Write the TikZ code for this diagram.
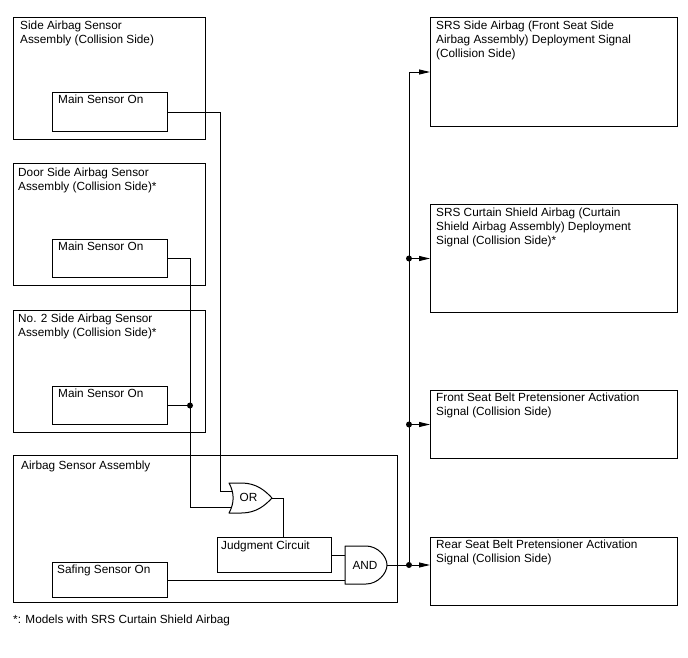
\documentclass[tikz,border=0pt]{standalone}
\usepackage{fontspec}
\setmainfont{Liberation Sans}
\usetikzlibrary{positioning,calc,arrows.meta}

\begin{document}
\begin{tikzpicture}[x=1pt,y=-1pt]
        \tikzset{
            unit/.style={draw, line width=1pt, anchor=north west, inner sep=0pt},
            lbl/.style={anchor=north west, inner sep=0pt, align=left, font=\fontsize{11.8}{14}\selectfont},
            gate/.style={inner sep=0pt, font=\fontsize{11.8}{14}\selectfont},
            outline/.style={line width=1pt, line join=round},
            wire/.style={line width=0.9pt},
            sig/.style={wire, -{Triangle[length=11pt,width=5pt]}},
            dot/.style={circle, fill, inner sep=0pt, minimum size=6pt}
        }
        \useasboundingbox (0,0) rectangle (688,658);
        % sensor assemblies
        \node[unit, minimum width=192, minimum height=122] (sa1) at (13,17) {};
        \node[unit, minimum width=115, minimum height=39] (m1) at (52,92) {};
        \node[unit, minimum width=192, minimum height=122] (sa2) at (13,163) {};
        \node[unit, minimum width=115, minimum height=38] (m2) at (52,239) {};
        \node[unit, minimum width=192, minimum height=122] (sa3) at (13,310) {};
        \node[unit, minimum width=115, minimum height=38] (m3) at (52,386) {};
        \node[lbl] (sa1t) at ([shift={(7,4)}]sa1.north west) {Side Airbag Sensor\\Assembly (Collision Side)};
        \node[lbl] (sa2t) at ([shift={(5,5)}]sa2.north west) {Door Side Airbag Sensor\\Assembly (Collision Side)*};
        \node[lbl] (sa3t) at ([shift={(5,4)}]sa3.north west) {No. 2 Side Airbag Sensor\\Assembly (Collision Side)*};
        \node[lbl] (m1t) at ([shift={(6,3)}]m1.north west) {Main Sensor On};
        \node[lbl] (m2t) at ([shift={(6,3)}]m2.north west) {Main Sensor On};
        \node[lbl] (m3t) at ([shift={(6,3)}]m3.north west) {Main Sensor On};
        % airbag sensor assembly
        \node[unit, minimum width=384, minimum height=147] (asa) at (13,455) {};
        \node[lbl] (asat) at ([shift={(8,6)}]asa.north west) {Airbag Sensor Assembly};
        \node[unit, minimum width=114, minimum height=35] (jc) at (217,537) {};
        \node[lbl] (jct) at ([shift={(4,3.5)}]jc.north west) {Judgment Circuit};
        \node[unit, minimum width=115, minimum height=35] (ss) at (52,562) {};
        \node[lbl] (sst) at ([shift={(5,3)}]ss.north west) {Safing Sensor On};
        % gates
        \node[gate] (org) at (248.5,497) {OR};
        \begin{scope}[shift={(250.5,498)}]
            \draw[outline] (-21.5,-15) -- (-9,-15) .. controls (6,-15) and (15,-7) .. (21.5,0)
                .. controls (15,7) and (6,15) .. (-9,15) -- (-21.5,15)
                .. controls (-16,5) and (-16,-5) .. (-21.5,-15) -- cycle;
            \coordinate (or1) at (-18.2,-6.5);
            \coordinate (or2) at (-18.9,9);
            \coordinate (orout) at (21.5,0);
        \end{scope}
        \node[gate] (andg) at (365,565) {AND};
        \begin{scope}[shift={(366,565)}]
            \draw[outline] (-21,-19) -- (0,-19) .. controls (11.6,-19) and (21,-8.5) .. (21,0)
                .. controls (21,8.5) and (11.6,19) .. (0,19) -- (-21,19) -- cycle;
            \coordinate (and1) at (-21,-10);
            \coordinate (and2) at (-21,14);
            \coordinate (andout) at (21,0);
        \end{scope}
        % output signals
        \node[unit, minimum width=247, minimum height=109] (r1) at (430,17) {};
        \node[unit, minimum width=247, minimum height=108] (r2) at (430,204) {};
        \node[unit, minimum width=247, minimum height=68] (r3) at (430,390) {};
        \node[unit, minimum width=247, minimum height=68] (r4) at (430,537) {};
        \node[lbl] (r1t) at ([shift={(6,4)}]r1.north west) {SRS Side Airbag (Front Seat Side\\Airbag Assembly) Deployment Signal\\(Collision Side)};
        \node[lbl] (r2t) at ([shift={(6,4)}]r2.north west) {SRS Curtain Shield Airbag (Curtain\\Shield Airbag Assembly) Deployment\\Signal (Collision Side)*};
        \node[lbl] (r3t) at ([shift={(6,3)}]r3.north west) {Front Seat Belt Pretensioner Activation\\Signal (Collision Side)};
        \node[lbl] (r4t) at ([shift={(6,3)}]r4.north west) {Rear Seat Belt Pretensioner Activation\\Signal (Collision Side)};
        \node[lbl] (note) at (13,615) {*: Models with SRS Curtain Shield Airbag};
        % wiring
        \draw[wire] (m1.east) -- ++(52,0) |- (or1);
        \draw[wire] (m2.east) -- ++(22,0) coordinate (k2) |- (or2);
        \draw[wire] (m3.east) -- (m3.east -| k2) node[dot] (d0) {};
        \draw[wire] (orout) -- ++(11,0) coordinate (k3) -- (k3 |- jc.north);
        \draw[wire] (jc.east) -- (jc.east -| and1);
        \draw[wire] (ss.east) -- (ss.east -| and2);
        \draw[wire] (andout) -- ++(22,0) node[dot] (d4) {};
        \node[dot] (d2) at (d4 |- r2.west) {};
        \node[dot] (d3) at (d4 |- r3.west) {};
        \draw[sig] (d4) |- (r1.west);
        \draw[sig] (d2) -- (r2.west);
        \draw[sig] (d3) -- (r3.west);
        \draw[sig] (d4) -- (d4 -| r4.west);
    \end{tikzpicture}
\end{document}
